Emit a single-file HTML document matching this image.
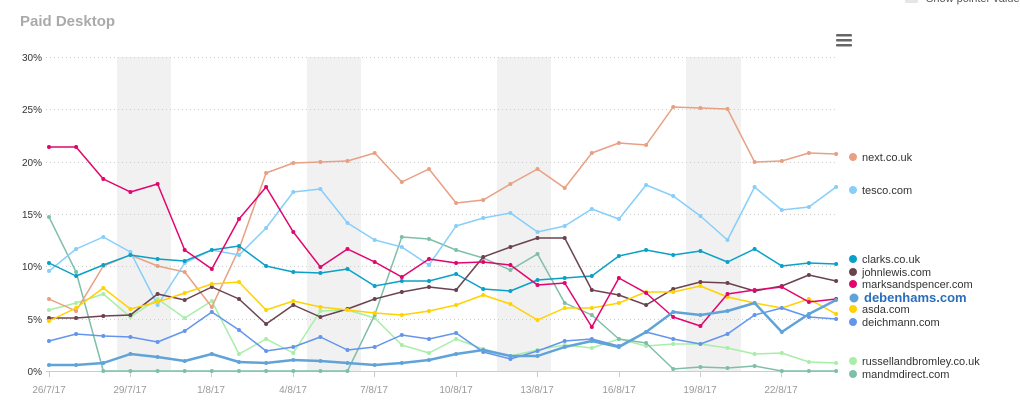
<!DOCTYPE html>
<html><head><meta charset="utf-8"><style>
html,body{margin:0;padding:0;background:#fff;width:1020px;height:409px;overflow:hidden;font-family:"Liberation Sans",sans-serif}
svg{position:absolute;left:0;top:0}
</style></head><body>
<svg width="1020" height="409" xmlns="http://www.w3.org/2000/svg" font-family="Liberation Sans, sans-serif">
<rect x="905" y="-8" width="13" height="11" fill="#e6e6e6" rx="1"/>
<text x="926" y="2" font-size="11" fill="#555">Show pointer values</text>
<text x="20" y="26" font-size="15" font-weight="bold" fill="#aaa">Paid Desktop</text>
<g fill="#666"><rect x="836" y="34" width="16" height="2.5" rx="1"/><rect x="836" y="39" width="16" height="2.5" rx="1"/><rect x="836" y="44" width="16" height="2.5" rx="1"/></g>
<g fill="#f1f1f1">
<rect x="117" y="57" width="54" height="314"/><rect x="307" y="57" width="54" height="314"/>
<rect x="497" y="57" width="54" height="314"/><rect x="686" y="57" width="55" height="314"/>
</g>
<g stroke="#ccc" stroke-dasharray="1,3" stroke-width="1">
<line x1="46" x2="836" y1="57.5" y2="57.5"/><line x1="46" x2="836" y1="109.5" y2="109.5"/>
<line x1="46" x2="836" y1="162.5" y2="162.5"/><line x1="46" x2="836" y1="214.5" y2="214.5"/>
<line x1="46" x2="836" y1="266.5" y2="266.5"/><line x1="46" x2="836" y1="319.5" y2="319.5"/>
</g>
<line x1="46" x2="836" y1="371.5" y2="371.5" stroke="#ccc"/>
<g stroke="#ccc"><line x1="49.5" x2="49.5" y1="371" y2="377"/><line x1="130.5" x2="130.5" y1="371" y2="377"/><line x1="211.5" x2="211.5" y1="371" y2="377"/><line x1="293.5" x2="293.5" y1="371" y2="377"/><line x1="374.5" x2="374.5" y1="371" y2="377"/><line x1="456.5" x2="456.5" y1="371" y2="377"/><line x1="537.5" x2="537.5" y1="371" y2="377"/><line x1="619.5" x2="619.5" y1="371" y2="377"/><line x1="700.5" x2="700.5" y1="371" y2="377"/><line x1="781.5" x2="781.5" y1="371" y2="377"/></g>
<g font-size="10" fill="#333" text-anchor="end">
<text x="42" y="61">30%</text><text x="42" y="113">25%</text><text x="42" y="166">20%</text>
<text x="42" y="218">15%</text><text x="42" y="270">10%</text><text x="42" y="323">5%</text><text x="42" y="375">0%</text>
</g>
<g font-size="10" fill="#999" text-anchor="middle">
<text x="49" y="393">26/7/17</text><text x="130" y="393">29/7/17</text><text x="211" y="393">1/8/17</text>
<text x="293" y="393">4/8/17</text><text x="374" y="393">7/8/17</text><text x="456" y="393">10/8/17</text>
<text x="537" y="393">13/8/17</text><text x="619" y="393">16/8/17</text><text x="700" y="393">19/8/17</text><text x="781" y="393">22/8/17</text>
</g>
<g id="series"></g>
<g font-size="11" fill="#333">
<circle cx="853" cy="157" r="4" fill="#e8a083"/><text x="862" y="161">next.co.uk</text>
<circle cx="853" cy="190" r="4" fill="#87cefa"/><text x="862" y="194">tesco.com</text>
<circle cx="853" cy="259" r="4" fill="#0aa0c8"/><text x="862" y="263">clarks.co.uk</text>
<circle cx="853" cy="272" r="4" fill="#6b4250"/><text x="862" y="276">johnlewis.com</text>
<circle cx="853" cy="284" r="4" fill="#e0066d"/><text x="862" y="288">marksandspencer.com</text>
<circle cx="854" cy="298" r="4.5" fill="#5fa3d9"/><text x="864" y="302" font-size="13" font-weight="bold" fill="#2a6ebb">debenhams.com</text>
<circle cx="853" cy="309" r="4" fill="#ffd200"/><text x="862" y="313">asda.com</text>
<circle cx="853" cy="322" r="4" fill="#6495ed"/><text x="862" y="326">deichmann.com</text>
<circle cx="853" cy="361" r="4" fill="#a8eea8"/><text x="862" y="365">russellandbromley.co.uk</text>
<circle cx="853" cy="374" r="4" fill="#7fbfaa"/><text x="862" y="378">mandmdirect.com</text>
</g>
</svg>
<script>
var S=[
["#a8eea8",1.5,[310,303,294,317,299,318,301,354,339,353,311,310,318,345,353,339,349,356,350,345,348,339,346,344,344,348,354,353,362,363]],
["#7fbfaa",1.5,[217,272,371,371,371,371,371,371,371,371,371,371,315,237,239,250,258,270,254,303,315,339,343,369,367,368,366,371,371,371]],
["#e8a083",1.5,[299,311,266,255,266,272,307,249,173,163,162,161,153,182,169,203,200,184,169,188,153,143,145,107,108,109,162,161,153,154]],
["#87cefa",1.5,[271,249,237,252,305,263,250,255,228,192,189,223,240,247,265,226,218,213,232,226,209,219,185,196,216,240,187,210,207,187]],
["#0aa0c8",1.5,[263,276,265,255,259,261,250,246,266,272,273,269,286,281,281,274,289,291,280,278,276,256,250,255,251,262,249,266,263,264]],
["#6b4250",1.5,[318,318,316,315,294,300,287,299,324,305,317,309,299,292,287,290,257,247,238,238,290,295,305,289,282,283,291,286,275,281]],
["#ffd200",1.5,[321,308,288,309,302,293,284,282,310,301,307,310,313,315,311,305,295,304,320,308,308,303,292,292,286,297,303,308,299,314]],
["#6495ed",1.5,[341,334,336,337,342,331,312,330,351,347,337,350,347,335,339,333,352,359,351,341,339,346,332,339,344,334,315,308,317,319]],
["#e0066d",1.5,[147,147,179,192,184,250,269,219,187,232,267,249,262,277,259,263,262,265,285,283,327,278,293,317,326,294,290,287,302,299]],
["#5fa3d9",2.5,[365,365,363,354,357,361,354,362,363,360,361,363,365,363,360,354,350,356,356,347,341,347,332,312,315,311,303,332,314,300]]
];
var g=document.getElementById("series"),ns="http://www.w3.org/2000/svg",h="";
S.forEach(function(s){var pts=s[2].map(function(y,i){return (49+i*27.14).toFixed(1)+","+y}).join(" ");
h+='<polyline fill="none" stroke="'+s[0]+'" stroke-width="'+s[1]+'" stroke-linejoin="round" points="'+pts+'"/>';
s[2].forEach(function(y,i){h+='<circle cx="'+(49+i*27.14).toFixed(1)+'" cy="'+y+'" r="2" fill="'+s[0]+'"/>';});});
g.innerHTML=h;
</script>
</body></html>
